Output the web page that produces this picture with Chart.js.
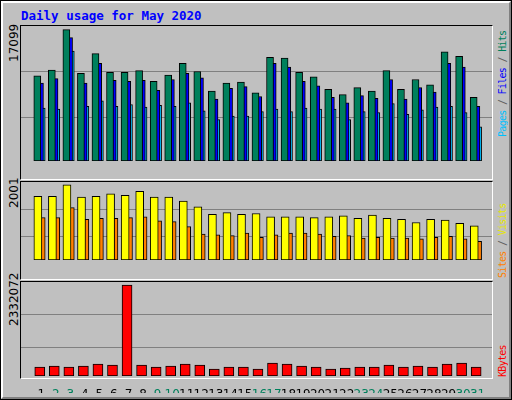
<!DOCTYPE html>
<html><head><meta charset="utf-8">
<script src="https://cdn.jsdelivr.net/npm/chart.js@4/dist/chart.umd.min.js"></script>
<style>
html,body{margin:0;padding:0;background:#fff;}
#wrap{position:relative;width:510px;height:398px;background:#c0c0c0;border:1px solid #000;overflow:hidden;}
#wrap:before{content:"";position:absolute;left:0;top:0;right:0;bottom:0;border-left:2px solid #fff;border-top:2px solid #fff;border-right:2px solid #808080;border-bottom:2px solid #808080;}
canvas{position:absolute;}
.frame{position:absolute;border-top:1px solid #000;border-left:1px solid #000;border-right:1px solid #fff;border-bottom:1px solid #fff;box-sizing:border-box;}
.vt{position:absolute;writing-mode:vertical-rl;transform:rotate(180deg);white-space:nowrap;}
.mono{font-family:"DejaVu Sans Mono",monospace;font-weight:bold;font-size:12px;}
.leg{font-family:"DejaVu Sans Mono",monospace;font-size:10px;letter-spacing:-0.7px;}
.num{font-family:"DejaVu Sans",sans-serif;font-size:12px;color:#000;}
</style></head><body>
<div id="wrap">
<div class="mono" style="position:absolute;left:20px;top:7px;color:#0000ff;font-size:12.5px;">Daily usage for May 2020</div>
<div class="frame" style="left:19px;top:24px;width:473px;height:155px;"></div>
<div class="frame" style="left:19px;top:180px;width:473px;height:99px;"></div>
<div class="frame" style="left:19px;top:280px;width:473px;height:98px;"></div>
<canvas id="c1" width="471" height="152" style="left:20px;top:25px;"></canvas>
<canvas id="c2" width="471" height="95" style="left:20px;top:181px;"></canvas>
<canvas id="c3" width="471" height="111" style="left:20px;top:281px;"></canvas>
<div class="vt num" style="left:6px;top:27px;height:34px;text-align:left;">17099</div>
<div class="vt num" style="left:6px;top:183px;height:24px;text-align:left;">2001</div>
<div class="vt num" style="left:6px;top:283px;height:42px;text-align:left;">2332072</div>
<div class="vt leg" style="left:496px;top:28px;height:108px;text-align:left;"><span style="color:#00c0ff">Pages</span><span style="color:#606060"> / </span><span style="color:#0000ff">Files</span><span style="color:#606060"> / </span><span style="color:#00805c">Hits</span></div>
<div class="vt leg" style="left:496px;top:197px;height:80px;text-align:left;"><span style="color:#ff8000">Sites</span><span style="color:#606060"> / </span><span style="color:#e8e800">Visits</span></div>
<div class="vt leg" style="left:496px;top:340px;height:36px;text-align:left;"><span style="color:#ff0000">KBytes</span></div>
</div>
<script>
const days=[1,2,3,4,5,6,7,8,9,10,11,12,13,14,15,16,17,18,19,20,21,22,23,24,25,26,27,28,29,30,31];
const weekendDays=[2,3,9,10,16,17,23,24,30,31];
const hits=[11064,11838,17099,11412,13966,11528,11528,11761,10368,11180,12689,11645,9091,10136,10252,8859,13501,13385,11528,10948,9323,8627,9555,9091,11761,9323,10600,9904,14198,13617,8279];
const files=[10136,10716,16055,10136,12689,10484,10368,10484,9207,10600,11412,10832,8047,9439,9672,8395,12689,12225,10368,9788,8279,7582,8511,8163,10600,8047,9555,8975,12689,12225,7118];
const pages=[6886,6770,14314,7118,7815,7118,7350,7002,7234,7118,7582,6538,5377,5842,5842,6422,6770,6422,6886,6770,6770,5377,6422,6306,7466,6074,6654,7002,7118,6306,4449];
const visits=[1695,1695,2001,1674,1695,1761,1717,1826,1674,1674,1564,1412,1215,1259,1215,1237,1150,1150,1150,1128,1150,1171,1106,1193,1106,1084,997,1084,1062,975,910];
const sites=[1128,1128,1390,1084,1106,1106,1128,1150,1040,1019,888,691,669,648,713,604,669,713,713,691,626,648,582,604,582,582,560,604,626,560,495];
const kbytes=[230634,256260,230634,256260,307512,281886,2332072,281886,230634,256260,307512,281886,179382,230634,230634,179382,333138,307512,256260,230634,179382,205008,230634,230634,281886,230634,256260,230634,307512,333138,230634];

const gridPlugin={id:'g',beforeDatasetsDraw(ch,a,o){const y=ch.scales.y,ctx=ch.ctx,ca=ch.chartArea;ctx.save();ctx.strokeStyle='#808080';ctx.lineWidth=1;(o.lines||[]).forEach(v=>{const p=Math.round(y.getPixelForValue(v))+0.5;ctx.beginPath();ctx.moveTo(ca.left,p);ctx.lineTo(ca.right,p);ctx.stroke();});ctx.restore();}};
function ds(vals,off,color,w){return {data:vals.map((v,i)=>({x:days[i]+off,y:v})),backgroundColor:color,borderColor:'#000',borderWidth:1,barThickness:w,grouped:false,borderSkipped:false};}
function make(id,sets,ymax,lines,showX){
  return new Chart(document.getElementById(id),{type:'bar',data:{datasets:sets},plugins:[gridPlugin],
  options:{responsive:false,animation:false,devicePixelRatio:1,layout:{padding:0},
   plugins:{legend:{display:false},tooltip:{enabled:false},g:{lines}},
   scales:{x:{type:'linear',min:0.133,max:31.467,display:showX,grid:{display:false},border:{display:false},
     afterBuildTicks:s=>{s.ticks=days.map(v=>({value:v}));},afterFit:s=>{s.height=17;},
     ticks:{autoSkip:false,maxRotation:0,padding:4,font:{family:'DejaVu Sans',size:12},color:c=>weekendDays.includes(c.tick&&c.tick.value)?'#00805c':'#000'}},
    y:{display:false,min:0,max:ymax}}}});
}
make('c1',[ds(hits,-0.27,'#00805c',7),ds(files,-0.12,'#0000ff',8),ds(pages,0,'#00c0ff',8)],17561,[5777,11669],false);
make('c2',[ds(visits,-0.23,'#ffff00',8),ds(sites,0,'#ff8000',8)],2073,[648,1368],false);
make('c3',[ds(kbytes,-0.1,'#ff0000',10)],2408952,[735400,1581000],true);
</script>
</body></html>
